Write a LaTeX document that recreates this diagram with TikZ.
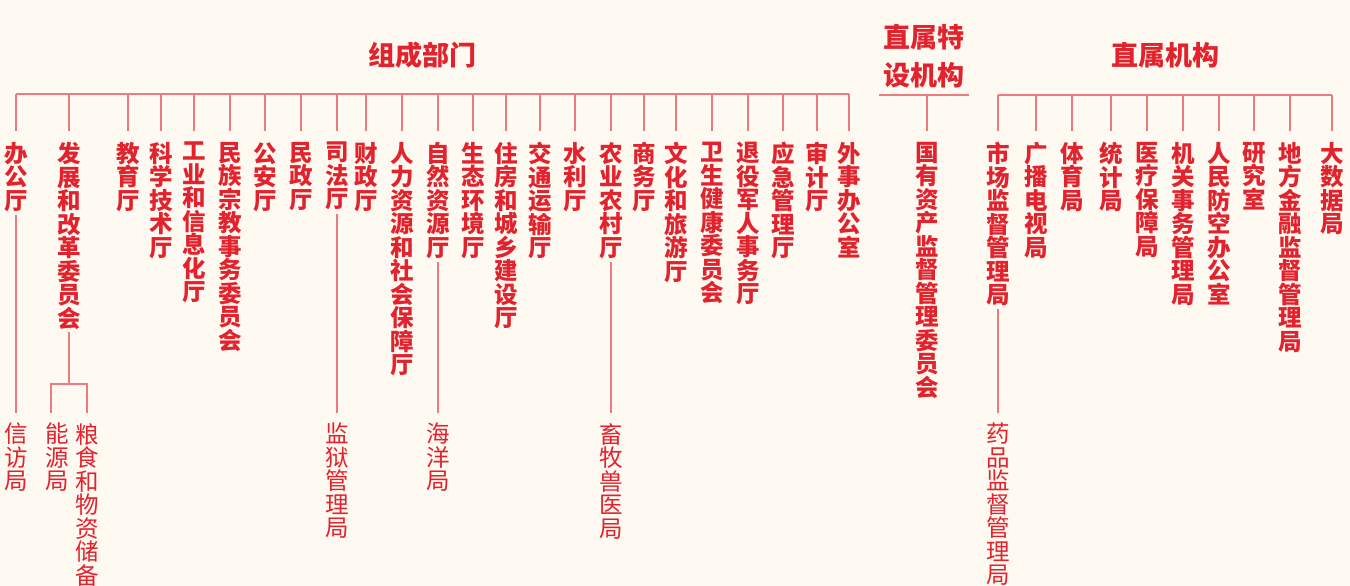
\documentclass[tikz,border=0pt]{standalone}
\usepackage{fontspec}
\setmainfont{Noto Sans CJK SC}
\XeTeXlinebreaklocale "zh"
\XeTeXlinebreakskip=0pt plus 1pt
\definecolor{zred}{HTML}{E2232D}
\definecolor{zline}{HTML}{EC7B80}
\definecolor{zbg}{HTML}{FEF9F1}

\begin{document}
\begin{tikzpicture}[x=1pt,y=-1pt,
  dept/.style={anchor=north,inner sep=0pt,text width=28pt,align=center,text=zred,font=\bfseries\fontsize{23.5}{23.5}\selectfont},
  sub/.style={dept,font=\mdseries\fontsize{23.5}{23.5}\selectfont},
  head/.style={inner sep=0pt,align=center,text=zred,font=\bfseries\fontsize{27}{38}\selectfont},
  link/.style={draw=zline,line width=1.2pt}]
\fill[zbg] (0,0) rectangle (1350,586);
\useasboundingbox (0,0) rectangle (1350,586);

% titles
\node[head] (zucheng) at (422,55) {组成部门};
\node[head] (teshe) at (924,56) {直属特\\设机构};
\node[head] (zhishu) at (1165,55) {直属机构};

% 组成部门
\node[dept] (n1) at (16,142) {办公厅};
\node[dept] (n2) at (69,142) {发展和改革委员会};
\node[dept] (n3) at (128,142) {教育厅};
\node[dept] (n4) at (161,142) {科学技术厅};
\node[dept] (n5) at (194,142) {工业和信息化厅};
\node[dept] (n6) at (230,142) {民族宗教事务委员会};
\node[dept] (n7) at (265,142) {公安厅};
\node[dept] (n8) at (301,142) {民政厅};
\node[dept] (n9) at (337,142) {司法厅};
\node[dept] (n10) at (366,142) {财政厅};
\node[dept] (n11) at (402,142) {人力资源和社会保障厅};
\node[dept] (n12) at (438,142) {自然资源厅};
\node[dept] (n13) at (473,142) {生态环境厅};
\node[dept] (n14) at (506,142) {住房和城乡建设厅};
\node[dept] (n15) at (540,142) {交通运输厅};
\node[dept] (n16) at (575,142) {水利厅};
\node[dept] (n17) at (611,142) {农业农村厅};
\node[dept] (n18) at (644,142) {商务厅};
\node[dept] (n19) at (676,142) {文化和旅游厅};
\node[dept] (n20) at (712,142) {卫生健康委员会};
\node[dept] (n21) at (748,142) {退役军人事务厅};
\node[dept] (n22) at (783,142) {应急管理厅};
\node[dept] (n23) at (817,142) {审计厅};
\node[dept] (n24) at (849,142) {外事办公室};

% 直属特设机构
\node[dept] (t1) at (927,142) {国有资产监督管理委员会};

% 直属机构
\node[dept] (j1) at (998,142) {市场监督管理局};
\node[dept] (j2) at (1036,142) {广播电视局};
\node[dept] (j3) at (1072,142) {体育局};
\node[dept] (j4) at (1111,142) {统计局};
\node[dept] (j5) at (1147,142) {医疗保障局};
\node[dept] (j6) at (1183,142) {机关事务管理局};
\node[dept] (j7) at (1219,142) {人民防空办公室};
\node[dept] (j8) at (1254,142) {研究室};
\node[dept] (j9) at (1290,142) {地方金融监督管理局};
\node[dept] (j10) at (1332,142) {大数据局};

% brackets
\coordinate (top) at (0,94);
\coordinate (mid) at (0,95);
\draw[link] (n1.north |- top) -- (n24.north |- top);
\foreach \i in {1,...,24} \draw[link,shorten >=11pt] (n\i.north |- top) -- (n\i.north);
\draw[link] ([xshift=-4pt]teshe.west |- mid) -- ([xshift=4pt]teshe.east |- mid);
\draw[link,shorten >=11pt] (t1.north |- mid) -- (t1.north);
\draw[link] (j1.north |- mid) -- (j10.north |- mid);
\foreach \i in {1,...,10} \draw[link,shorten >=11pt] (j\i.north |- mid) -- (j\i.north);

% 下属局
\node[sub] (xinfang) at (16,423) {信访局};
\node[sub] (nengyuan) at (57,423) {能源局};
\node[sub] (liangshi) at (87,423) {粮食和物资储备局};
\node[sub] (jianyu) at (337,423) {监狱管理局};
\node[sub] (haiyang) at (438,423) {海洋局};
\node[sub] (xumu) at (611,423) {畜牧兽医局};
\node[sub] (yaopin) at (998,423) {药品监督管理局};

\draw[link,shorten <=3pt,shorten >=10pt] (n1.south) -- (xinfang.north);
\coordinate (fork) at (69,384);
\coordinate (nyend) at (51,413);
\draw[link,shorten <=3pt] (n2.south) -- (fork);
\draw[link] (fork) -| (nyend);
\draw[link,shorten >=10pt] (fork) -| (liangshi.north);
\draw[link,shorten <=3pt,shorten >=10pt] (n9.south) -- (jianyu.north);
\draw[link,shorten <=3pt,shorten >=10pt] (n12.south) -- (haiyang.north);
\draw[link,shorten <=3pt,shorten >=10pt] (n17.south) -- (xumu.north);
\draw[link,shorten <=3pt,shorten >=10pt] (j1.south) -- (yaopin.north);
\end{tikzpicture}
\end{document}
